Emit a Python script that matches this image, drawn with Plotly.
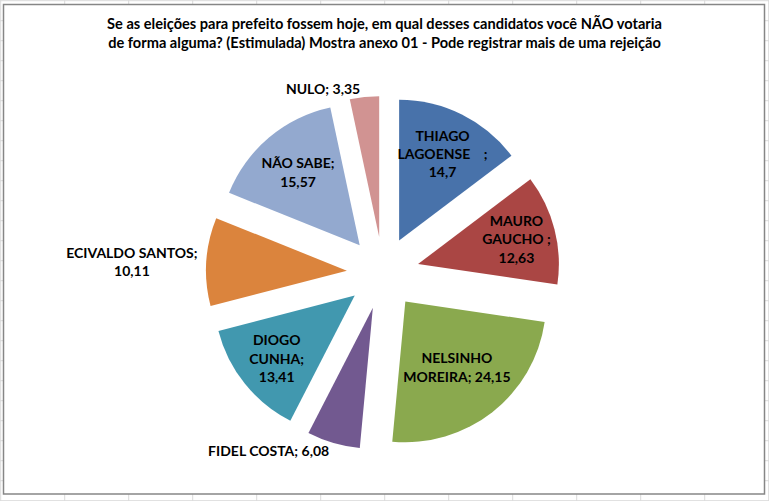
import plotly.graph_objects as go

W, H = 769, 501

# ---- data ----
names = ["THIAGO LAGOENSE    ", "MAURO GAUCHO ", "NELSINHO MOREIRA", "FIDEL COSTA",
         "DIOGO CUNHA", "ECIVALDO SANTOS", "NÃO SABE", "NULO"]
values = [14.7, 12.63, 24.15, 6.08, 13.41, 10.11, 15.57, 3.35]
# how each label is wrapped in the picture
label_text = ["THIAGO<br>LAGOENSE    ;<br>14,7", "MAURO<br>GAUCHO ;<br>12,63",
              "NELSINHO<br>MOREIRA; 24,15", "FIDEL COSTA; 6,08",
              "DIOGO<br>CUNHA;<br>13,41", "ECIVALDO SANTOS;<br>10,11",
              "NÃO SABE;<br>15,57", "NULO; 3,35"]
text_pos = ["inside", "inside", "inside", "outside", "inside", "outside", "inside", "outside"]
colors = ["#4872AA", "#AA4644", "#8AA94E", "#725990", "#4198AF", "#DB843D", "#93A9CF", "#D19392"]

title = ("Se as eleições para prefeito fossem hoje, em qual desses candidatos você NÃO votaria<br>"
         "de forma alguma? (Estimulada) Mostra anexo 01 - Pode registrar mais de uma rejeição")

FONT = "Lato"

def px(x):
    return x / W

def py(y):
    return 1 - y / H

# pie geometry (pixels)
cx, cy, half = 383, 273, 177
pull = 0.257

fig = go.Figure(go.Pie(
    labels=names, values=values, text=label_text, textinfo="text",
    textposition=text_pos, insidetextorientation="horizontal",
    sort=False, direction="clockwise", rotation=0,
    pull=[pull] * len(values),
    marker=dict(colors=colors, line=dict(width=0)),
    textfont=dict(family=FONT, size=14, color="#000000", weight="bold"),
    domain=dict(x=[px(cx - half), px(cx + half)], y=[py(cy + half), py(cy - half)]),
    hoverinfo="label+value", showlegend=False,
))

shapes = []
# spreadsheet grid behind the chart
x = 0.7
while x < W:
    shapes.append(dict(type="line", xref="paper", yref="paper", x0=px(x), x1=px(x), y0=0, y1=1,
                       line=dict(color="#DADADA", width=1), layer="below"))
    x += 64
y = 0.7
while y < H:
    shapes.append(dict(type="line", xref="paper", yref="paper", x0=0, x1=1, y0=py(y), y1=py(y),
                       line=dict(color="#DADADA", width=1), layer="below"))
    y += 20
# chart area
shapes.append(dict(type="rect", xref="paper", yref="paper", x0=px(3.5), x1=px(764.5),
                   y0=py(494), y1=py(4.5), fillcolor="white",
                   line=dict(color="#868686", width=1.5), layer="below"))

fig.update_layout(
    width=W, height=H, autosize=False,
    margin=dict(l=0, r=0, t=0, b=0, autoexpand=False),
    paper_bgcolor="white", plot_bgcolor="white",
    shapes=shapes,
    showlegend=False,
    uniformtext=dict(minsize=14, mode="show"),
    title=dict(text=title, x=0.5, xanchor="center", xref="container",
               y=1 - 29 / H, yanchor="top", yref="container",
               font=dict(family=FONT, size=14.6, color="#000000", weight="bold")),
)

fig.write_html("out.html")
